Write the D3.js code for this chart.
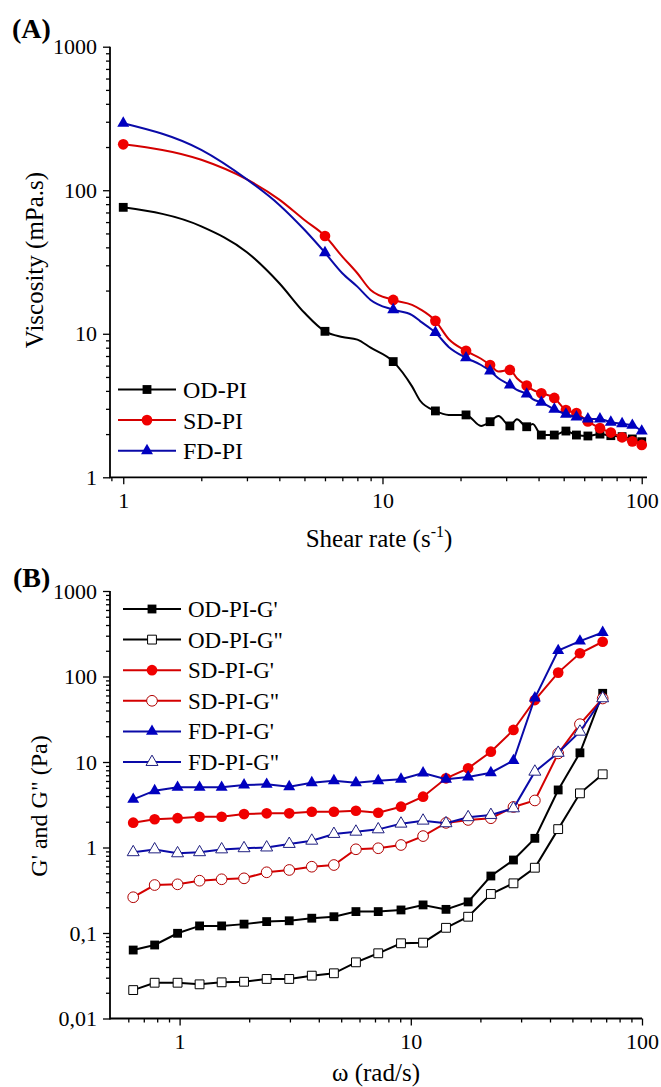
<!DOCTYPE html>
<html>
<head>
<meta charset="utf-8">
<script src="https://cdnjs.cloudflare.com/ajax/libs/d3/7.8.5/d3.min.js"></script>
<style>
    body { margin: 0; background: #fff; }
    svg text { font-family: "Liberation Serif", "Times New Roman", serif; fill: #000; }
</style>
</head>
<body>
<div id="chart"></div>
<script>

// ---------- (A) viscosity vs shear rate ----------
var shearRate = [1, 2, 3, 4, 5, 6, 7, 8, 9, 11, 13, 14, 16, 18, 21, 24, 26, 28, 31, 33, 36, 38, 41, 46, 51, 56, 62, 69, 76, 84, 92, 100];
var viscOD = [76, 56, 37, 22.5, 14, 10.4, 9.5, 9.1, 8.0, 6.4, 4.3, 3.4, 2.9, 2.72, 2.72, 2.28, 2.44, 2.67, 2.28, 2.54, 2.25, 2.35, 1.97, 1.97, 2.1, 1.97, 1.94, 2.0, 1.95, 1.92, 1.85, 1.77];
var viscSD = [209, 163, 119, 86, 62, 48, 34.5, 26.4, 20.2, 17.2, 15.9, 14.8, 12.3, 9.2, 7.6, 6.7, 6.06, 5.45, 5.6, 4.9, 4.35, 4.06, 3.85, 3.57, 2.94, 2.8, 2.45, 2.2, 2.05, 1.9, 1.78, 1.68];
var viscFD = [293, 191, 119, 79, 53, 36.7, 26.4, 21.3, 17.2, 14.7, 13.5, 12.2, 10.2, 8.1, 6.8, 6.06, 5.5, 4.9, 4.4, 4.06, 3.8, 3.5, 3.33, 2.98, 2.75, 2.63, 2.55, 2.55, 2.42, 2.36, 2.3, 2.1];
var markerRates = [1, 6, 11, 16, 21, 26, 31, 36, 41, 46, 51, 56, 62, 69, 76, 84, 92, 100];
var seriesA = ["OD-PI", "SD-PI", "FD-PI"];

// ---------- (B) G' and G" vs angular frequency ----------
var omega = [0.63, 0.78, 0.98, 1.22, 1.52, 1.9, 2.38, 2.98, 3.73, 4.65, 5.79, 7.23, 9.07, 11.3, 14.2, 17.7, 22.2, 27.8, 34.4, 43.4, 53.9, 67.6];
var odG1 = [0.0632, 0.0724, 0.0992, 0.121, 0.121, 0.127, 0.136, 0.139, 0.149, 0.155, 0.178, 0.178, 0.186, 0.213, 0.189, 0.231, 0.464, 0.714, 1.28, 4.71, 12.8, 63.6];
var odG2 = [0.0215, 0.0262, 0.0262, 0.0251, 0.0265, 0.0269, 0.029, 0.029, 0.0317, 0.0338, 0.0454, 0.0579, 0.0758, 0.0771, 0.115, 0.155, 0.286, 0.381, 0.58, 1.64, 4.3, 7.18];
var sdG1 = [1.95, 2.14, 2.2, 2.29, 2.29, 2.46, 2.51, 2.51, 2.62, 2.62, 2.69, 2.55, 3.0, 3.93, 6.45, 8.44, 13.2, 23.7, 53, 111, 187, 255];
var sdG2 = [0.262, 0.364, 0.371, 0.409, 0.425, 0.436, 0.513, 0.546, 0.596, 0.624, 0.953, 0.98, 1.07, 1.36, 1.94, 2.1, 2.2, 2.98, 3.55, 12.6, 27.7, 55.3];
var fdG1 = [3.66, 4.62, 5.06, 5.06, 5.06, 5.38, 5.48, 5.14, 5.73, 6.04, 5.73, 6.04, 6.28, 7.44, 6.28, 6.68, 7.5, 10.4, 56, 201, 259, 327];
var fdG2 = [0.88, 0.95, 0.855, 0.88, 0.95, 0.98, 1.0, 1.1, 1.2, 1.44, 1.53, 1.63, 1.9, 2.06, 1.92, 2.26, 2.4, 2.87, 7.7, 12.8, 22.6, 55.6];
var seriesB = ["OD-PI-G'", "OD-PI-G\"", "SD-PI-G'", "SD-PI-G\"", "FD-PI-G'", "FD-PI-G\""];

var yTicksA = [1, 10, 100, 1000];
var xTicksA = [1, 10, 100];
var yTicksB = [0.01, 0.1, 1, 10, 100, 1000];
var yLabelsB = ["0,01", "0,1", "1", "10", "100", "1000"];
var xTicksB = [1, 10, 100];

// ---------- styles ----------
var lineCol = { black: "#000", red: "#d40000", blue: "#0a0aa8" };
var markCol = { black: "#000", red: "#f00000", blue: "#0000c0" };
var openStroke = { black: "#000", red: "#b00000", blue: "#202080" };

var svg = d3.select("#chart").append("svg")
    .attr("width", 661)
    .attr("height", 1087);

function minorTicks(lo, hi) {
    var out = [];
    for (var e = Math.floor(Math.log10(lo)); e < Math.ceil(Math.log10(hi)); e++) {
        for (var k = 2; k <= 9; k++) {
            var v = k * Math.pow(10, e);
            if (v > lo && v < hi) out.push(v);
        }
    }
    return out;
}

function symbolFor(shape) {
    if (shape === "square") return d3.symbolSquare;
    if (shape === "circle") return d3.symbolCircle;
    return d3.symbolTriangle;
}
var symSize = { square: 78, circle: 90, triangle: 62 };

function drawAxes(g, x, y, xt, yt, yfmt) {
    var xr = x.range(), yr = y.range();

    // minor ticks
    g.append("g")
        .attr("transform", "translate(0," + yr[0] + ")")
        .call(d3.axisBottom(x).tickValues(minorTicks(x.domain()[0], x.domain()[1])).tickSize(4).tickFormat(""))
        .call(function(s) { s.select(".domain").remove(); });
    g.append("g")
        .attr("transform", "translate(" + xr[0] + ",0)")
        .call(d3.axisLeft(y).tickValues(minorTicks(y.domain()[0], y.domain()[1])).tickSize(4).tickFormat(""))
        .call(function(s) { s.select(".domain").remove(); });

    // major ticks + labels
    var xa = g.append("g")
        .attr("transform", "translate(0," + yr[0] + ")")
        .call(d3.axisBottom(x).tickValues(xt).tickSize(7).tickPadding(8).tickFormat(d3.format("d")));
    var ya = g.append("g")
        .attr("transform", "translate(" + xr[0] + ",0)")
        .call(d3.axisLeft(y).tickValues(yt).tickSize(7).tickPadding(6).tickFormat(yfmt));

    [xa, ya].forEach(function(a) {
        a.select(".domain").remove();
        a.selectAll("text").style("font-size", "22px").attr("fill", "#000");
    });
    g.selectAll(".tick line").attr("stroke", "#000").attr("stroke-width", 1.3);

    g.append("line")
        .attr("x1", xr[0]).attr("x2", xr[1]).attr("y1", yr[0]).attr("y2", yr[0])
        .attr("stroke", "#000").attr("stroke-width", 1.8);
    g.append("line")
        .attr("x1", xr[0]).attr("x2", xr[0]).attr("y1", yr[0] + 0.9).attr("y2", yr[1])
        .attr("stroke", "#000").attr("stroke-width", 1.8);
}

function drawSeries(g, pts, col, shape, open, curve, showMark) {
    var line = d3.line()
        .x(function(d) { return d.px; })
        .y(function(d) { return d.py; })
        .curve(curve);

    g.append("path")
        .attr("d", line(pts))
        .attr("fill", "none")
        .attr("stroke", lineCol[col])
        .attr("stroke-width", 2);

    g.selectAll(null)
        .data(pts.filter(showMark))
        .enter().append("path")
        .attr("transform", function(d) { return "translate(" + d.px + "," + d.py + ")"; })
        .attr("d", d3.symbol().type(symbolFor(shape)).size(symSize[shape]))
        .attr("fill", open ? "#fff" : markCol[col])
        .attr("stroke", open ? openStroke[col] : "none")
        .attr("stroke-width", 1);
}

function legendRow(g, x0, y0, col, shape, open, label, fs) {
    g.append("line")
        .attr("x1", x0).attr("x2", x0 + 58).attr("y1", y0).attr("y2", y0)
        .attr("stroke", lineCol[col]).attr("stroke-width", 2);
    g.append("path")
        .attr("transform", "translate(" + (x0 + 29) + "," + y0 + ")")
        .attr("d", d3.symbol().type(symbolFor(shape)).size(symSize[shape]))
        .attr("fill", open ? "#fff" : markCol[col])
        .attr("stroke", open ? openStroke[col] : "none")
        .attr("stroke-width", 1);
    g.append("text")
        .attr("x", x0 + 65).attr("y", y0)
        .attr("dy", "0.35em")
        .style("font-size", fs + "px")
        .text(label);
}

// ================= Panel A =================
var gA = svg.append("g");
var xA = d3.scaleLog().domain([0.889, 104.8]).range([110, 647]);
var yA = d3.scaleLog().domain([1, 1000]).range([477.3, 46.7]);

drawAxes(gA, xA, yA, xTicksA, yTicksA, d3.format("d"));

var colsA = ["black", "red", "blue"];
var shapesA = ["square", "circle", "triangle"];
[viscOD, viscSD, viscFD].forEach(function(vals, i) {
    var pts = shearRate.map(function(s, j) {
        return { rate: s, px: xA(s), py: yA(vals[j]) };
    });
    drawSeries(gA, pts, colsA[i], shapesA[i], false, d3.curveMonotoneX, function(d) {
        return markerRates.indexOf(d.rate) >= 0;
    });
});

seriesA.forEach(function(name, i) {
    legendRow(gA, 118, 389.5 + i * 30.6, colsA[i], shapesA[i], false, name, 24);
});

gA.append("text")
    .attr("x", 12).attr("y", 38)
    .style("font-size", "28px").style("font-weight", "bold")
    .text("(A)");

gA.append("text")
    .attr("transform", "translate(43,260) rotate(-90)")
    .attr("text-anchor", "middle")
    .style("font-size", "25px")
    .text("Viscosity (mPa.s)");

var xtA = gA.append("text")
    .attr("x", 379).attr("y", 547)
    .attr("text-anchor", "middle")
    .style("font-size", "25px");
xtA.append("tspan").text("Shear rate (s");
xtA.append("tspan").attr("dy", "-10").style("font-size", "16px").text("-1");
xtA.append("tspan").attr("dy", "10").text(")");

// ================= Panel B =================
var gB = svg.append("g");
var xB = d3.scaleLog().domain([0.5, 100]).range([110, 642]);
var yB = d3.scaleLog().domain([0.01, 1000]).range([1018.5, 591]);

drawAxes(gB, xB, yB, xTicksB, yTicksB, function(d) { return yLabelsB[yTicksB.indexOf(d)]; });

var valsB = [odG1, odG2, sdG1, sdG2, fdG1, fdG2];
var colsB = ["black", "black", "red", "red", "blue", "blue"];
var shapesB = ["square", "square", "circle", "circle", "triangle", "triangle"];
var openB = [false, true, false, true, false, true];

valsB.forEach(function(vals, i) {
    var pts = omega.map(function(w, j) {
        return { px: xB(w), py: yB(vals[j]) };
    });
    drawSeries(gB, pts, colsB[i], shapesB[i], openB[i], d3.curveLinear, function() { return true; });
});

seriesB.forEach(function(name, i) {
    legendRow(gB, 123, 609 + i * 30.6, colsB[i], shapesB[i], openB[i], name, 23);
});

gB.append("text")
    .attr("x", 13).attr("y", 587)
    .style("font-size", "28px").style("font-weight", "bold")
    .text("(B)");

gB.append("text")
    .attr("transform", "translate(47,806) rotate(-90)")
    .attr("text-anchor", "middle")
    .style("font-size", "24px")
    .text("G' and G\" (Pa)");

gB.append("text")
    .attr("x", 376).attr("y", 1081)
    .attr("text-anchor", "middle")
    .style("font-size", "25px")
    .text("\u03c9 (rad/s)");

</script>
</body>
</html>
